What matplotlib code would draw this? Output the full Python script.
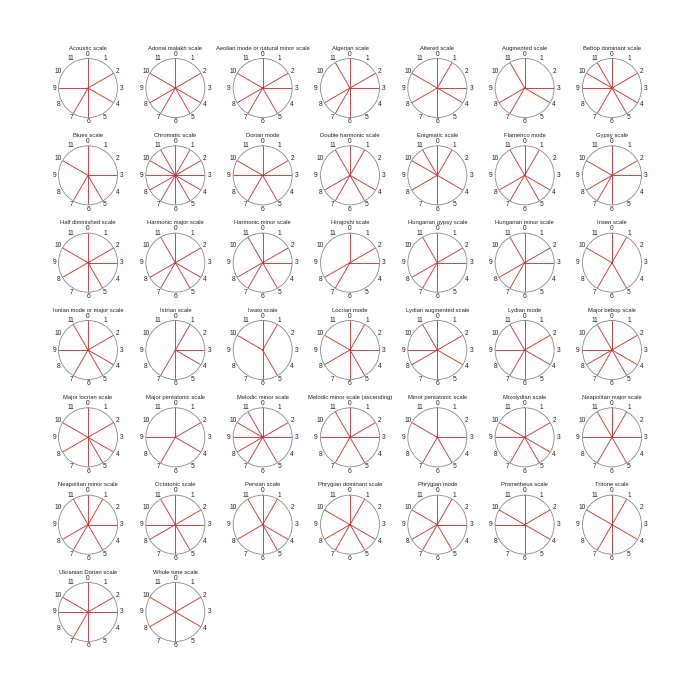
import numpy as np
import matplotlib
matplotlib.use('Agg')
from matplotlib import pyplot as plt

plt.rcParams['font.family'] = ['Liberation Sans', 'DejaVu Sans']

# Scales as pitch classes (0 = root)
scale_names = [
    'Acoustic scale', 'Adonai malakh scale', 'Aeolian mode or natural minor scale',
    'Algerian scale', 'Altered scale', 'Augmented scale', 'Bebop dominant scale',
    'Blues scale', 'Chromatic scale', 'Dorian mode', 'Double harmonic scale',
    'Enigmatic scale', 'Flamenco mode', 'Gypsy scale',
    'Half diminished scale', 'Harmonic major scale', 'Harmonic minor scale',
    'Hirajoshi scale', 'Hungarian gypsy scale', 'Hungarian minor scale', 'Insen scale',
    'Ionian mode or major scale', 'Istrian scale', 'Iwato scale', 'Locrian mode',
    'Lydian augmented scale', 'Lydian mode', 'Major bebop scale',
    'Major locrian scale', 'Major pentatonic scale', 'Melodic minor scale',
    'Melodic minor scale (ascending)', 'Minor pentatonic scale', 'Mixolydian scale',
    'Neapolitan major scale',
    'Neapolitan minor scale', 'Octatonic scale', 'Persian scale',
    'Phrygian dominant scale', 'Phrygian mode', 'Prometheus scale', 'Tritone scale',
    'Ukranian Dorian scale', 'Whole tone scale',
]
scale_notes = [
    [0, 2, 4, 6, 7, 9], [0, 2, 4, 5, 7, 8, 10], [0, 2, 3, 5, 7, 8, 10],
    [0, 2, 3, 6, 7, 8, 11], [0, 1, 3, 4, 6, 8, 10], [0, 3, 4, 7, 8, 11],
    [0, 2, 4, 5, 7, 9, 10, 11],
    [0, 3, 5, 6, 7, 10], list(range(12)), [0, 2, 3, 5, 7, 9, 10],
    [0, 1, 4, 5, 7, 8, 11], [0, 1, 4, 6, 8, 10, 11], [0, 1, 4, 5, 7, 8, 11],
    [0, 2, 3, 6, 7, 8, 10],
    [0, 2, 3, 5, 6, 8, 10], [0, 2, 4, 5, 7, 8, 11], [0, 2, 3, 5, 7, 8, 11],
    [0, 2, 3, 7, 8], [0, 2, 3, 6, 7, 8, 11], [0, 2, 3, 6, 7, 8, 11], [0, 1, 5, 7, 10],
    [0, 2, 4, 5, 7, 9, 11], [0, 1, 3, 4, 6, 7], [0, 1, 5, 6, 10],
    [0, 1, 3, 5, 6, 8, 10], [0, 2, 4, 6, 8, 9, 11], [0, 2, 4, 6, 7, 9, 11],
    [0, 2, 4, 5, 7, 8, 9, 11],
    [0, 2, 4, 5, 6, 8, 10], [0, 2, 4, 7, 9], [0, 2, 3, 5, 7, 8, 9, 10, 11],
    [0, 2, 3, 5, 7, 9, 11], [0, 3, 5, 7, 10], [0, 2, 4, 5, 7, 9, 10],
    [0, 1, 3, 5, 7, 9, 11],
    [0, 1, 3, 5, 7, 8, 11], [0, 2, 3, 5, 6, 8, 9, 11], [0, 1, 4, 5, 6, 8, 11],
    [0, 1, 4, 5, 7, 8, 10], [0, 1, 3, 5, 7, 8, 10], [0, 2, 4, 6, 9, 10],
    [0, 1, 4, 6, 7, 10],
    [0, 2, 3, 6, 7, 9, 10], [0, 2, 4, 6, 8, 10],
]
note_labels = [str(i) for i in range(12)]

fig, axes = plt.subplots(7, 7, figsize=(7, 7), dpi=100,
                         subplot_kw={'projection': 'polar'},
                         gridspec_kw={'left': 0.0836, 'right': 0.9164,
                                      'bottom': 0.0836, 'top': 0.9164,
                                      'wspace': 0.48, 'hspace': 0.48})
axes = axes.ravel()
angles = np.arange(12) * 2 * np.pi / 12

for i, ax in enumerate(axes):
    if i >= len(scale_names):
        ax.set_visible(False)
        continue
    for n in scale_notes[i]:
        ax.plot([angles[n], angles[n]], [0, 1], color='#c83030', lw=0.7, alpha=0.9)
    ax.set_theta_zero_location('N')
    ax.set_theta_direction(-1)
    ax.set_ylim(0, 1)
    ax.set_yticks([])
    ax.set_xticks(angles)
    ax.set_xticklabels(note_labels, fontsize=4.8, color='#222222')
    ax.grid(False)
    ax.tick_params(axis='x', direction='in', length=2, width=0.5, color='#777777', pad=-3.8)
    ax.spines['polar'].set_color('#888888')
    ax.spines['polar'].set_linewidth(0.6)
    ax.set_title(scale_names[i], fontsize=4.2, y=1.15, pad=0, color='#222222')

fig.savefig('out.png', dpi=100, facecolor='white')
